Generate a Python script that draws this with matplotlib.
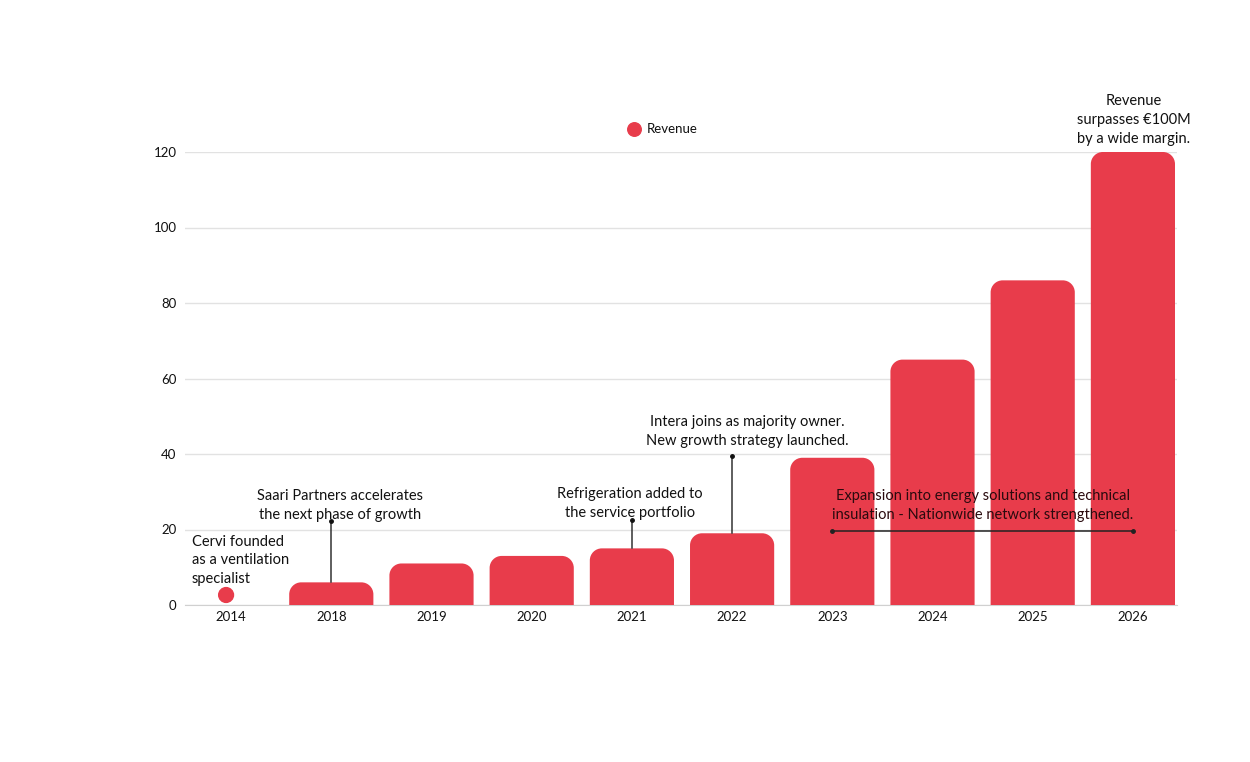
import numpy as np
import matplotlib.pyplot as plt
from matplotlib.path import Path
from matplotlib.patches import PathPatch

plt.rcParams['font.family'] = ['Lato', 'DejaVu Sans']

years = ['2014', '2018', '2019', '2020', '2021', '2022', '2023', '2024', '2025', '2026']
revenue = [4.8, 6, 11, 13, 15, 19, 39, 65, 86, 120]

# annotations: (bar index, text, y of dot, text x shift, text y)
notes = [
    (1, 'Saari Partners accelerates\nthe next phase of growth', 22.2, 0.09, 26.4),
    (4, 'Refrigeration added to\nthe service portfolio', 22.6, -0.02, 27.0),
    (5, 'Intera joins as majority owner.\nNew growth strategy launched.', 39.6, 0.15, 46.0),
]
span_note = 'Expansion into energy solutions and technical\ninsulation - Nationwide network strengthened.'
span_from, span_to, span_y = 6, 9, 19.6

red = '#e83c4b'
W, H = 1250, 762

fig = plt.figure(figsize=(12.5, 7.62), dpi=100)
ax = fig.add_axes([185 / W, 1 - 605 / H, (1177 - 185) / W, (605 - 152) / H])
ax.set_xlim(-0.46, 9.44)
ax.set_ylim(0, 120)

px_x = (1177 - 185) / (9.44 + 0.46)
px_y = (605 - 152) / 120.0


def rounded_bar(x, h, w, r_px, round_bottom=False, base=0.0):
    rx = min(r_px / px_x, w / 2)
    ry = min(r_px / px_y, (h - base) / 2 if round_bottom else h)
    k = 0.5523
    x0, x1 = x - w / 2, x + w / 2
    b = base
    verts, codes = [], []
    if round_bottom:
        verts += [(x0 + rx, b), (x1 - rx, b),
                  (x1 - rx + k * rx, b), (x1, b + ry - k * ry), (x1, b + ry)]
        codes += [Path.MOVETO, Path.LINETO, Path.CURVE4, Path.CURVE4, Path.CURVE4]
    else:
        verts += [(x0, b), (x1, b)]
        codes += [Path.MOVETO, Path.LINETO]
    verts += [(x1, h - ry), (x1, h - ry + k * ry), (x1 - rx + k * rx, h), (x1 - rx, h),
              (x0 + rx, h), (x0 + rx - k * rx, h), (x0, h - ry + k * ry), (x0, h - ry)]
    codes += [Path.LINETO, Path.CURVE4, Path.CURVE4, Path.CURVE4,
              Path.LINETO, Path.CURVE4, Path.CURVE4, Path.CURVE4]
    if round_bottom:
        verts += [(x0, b + ry), (x0, b + ry - k * ry), (x0 + rx - k * rx, b), (x0 + rx, b)]
        codes += [Path.LINETO, Path.CURVE4, Path.CURVE4, Path.CURVE4]
    else:
        verts += [(x0, b)]
        codes += [Path.LINETO]
    verts += [(0, 0)]
    codes += [Path.CLOSEPOLY]
    return PathPatch(Path(verts, codes), facecolor=red, edgecolor='none', zorder=3, clip_on=False)


for i, v in enumerate(revenue):
    if i == 0:
        base = 0.5
        d = (v - base) * px_y
        ax.add_patch(rounded_bar(i - 0.05, v, d / px_x, d / 2, round_bottom=True, base=base))
    else:
        ax.add_patch(rounded_bar(i, v, 0.84, 12))

ax.set_yticks([0, 20, 40, 60, 80, 100, 120])
ax.set_xticks(range(len(years)))
ax.set_xticklabels(years)
ax.tick_params(length=0, labelsize=9.5, colors='#111111')
ax.tick_params(axis='y', pad=6)
ax.tick_params(axis='x', pad=4)
ax.grid(axis='y', color='#e2e2e2', linewidth=1, zorder=0)
for s in ['top', 'right', 'left']:
    ax.spines[s].set_visible(False)
ax.spines['bottom'].set_color('#d0d0d0')
ax.set_axisbelow(True)

fs = 10.5
for i, txt, yd, dx, ty in notes:
    ax.plot([i, i], [revenue[i], yd], color='#333333', lw=1.1, zorder=4)
    ax.plot([i], [yd], 'o', color='#111111', ms=2.5, zorder=5)
    ax.text(i + dx, ty, txt, ha='center', va='center',
            fontsize=fs, color='#111111', linespacing=1.45, zorder=5)

ax.plot([span_from, span_to], [span_y, span_y], color='#222222', lw=1.1, zorder=4)
ax.plot([span_from, span_to], [span_y, span_y], 'o', color='#222222', ms=2.5, zorder=5)
ax.text((span_from + span_to) / 2, 26.3, span_note, ha='center', va='center',
        fontsize=fs, color='#2a0a0e', linespacing=1.45, zorder=5)

ax.text(-0.39, 11.8, 'Cervi founded\nas a ventilation\nspecialist', ha='left', va='center',
        fontsize=fs, color='#111111', linespacing=1.45, zorder=5)
ax.text(9.01, 128.4, 'Revenue\nsurpasses €100M\nby a wide margin.', ha='center', va='center',
        fontsize=fs, color='#111111', linespacing=1.45, zorder=5, clip_on=False)

# legend
lx = (634 - 185) / (1177 - 185)
ly = (605 - 129) / (605 - 152)
ax.scatter([lx], [ly], s=95, color=red, transform=ax.transAxes, clip_on=False, zorder=5)
ax.text(lx + 13 / (1177 - 185), ly, 'Revenue', transform=ax.transAxes, ha='left', va='center',
        fontsize=9.5, color='#111111')

fig.savefig('out.png', dpi=100)
